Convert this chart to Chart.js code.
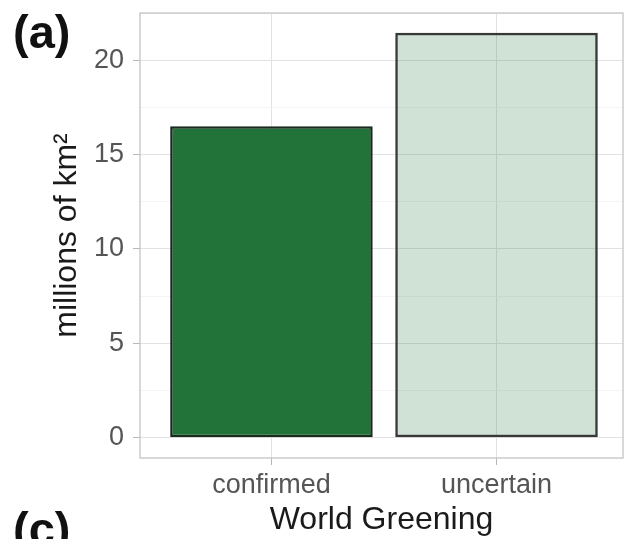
<!DOCTYPE html>
<html>
<head>
<meta charset="utf-8">
<script src="https://cdn.jsdelivr.net/npm/chart.js@4.4.1/dist/chart.umd.min.js"></script>
<style>
  html, body { margin: 0; padding: 0; background: #fff; }
  #wrap { position: relative; width: 629px; height: 539px; }
</style>
</head>
<body>
<div id="wrap"><canvas id="greenChart" width="629" height="539"></canvas></div>
<script>
// data
const categories = ['confirmed', 'uncertain'];
const areaValues = [16.5, 21.45];          // millions of km2
const yTickValues = [0, 2.5, 5, 7.5, 10, 12.5, 15, 17.5, 20, 22.5];
const panelTags = ['(a)', '(c)'];

const FONT = '"Liberation Sans", Arial, Helvetica, sans-serif';

// full panel border + the panel letters
const panelDecor = {
    id: 'panelDecor',
    afterDatasetsDraw(chart) {
        const { ctx, chartArea: a } = chart;
        ctx.save();
        ctx.strokeStyle = '#c4c4c4';
        ctx.lineWidth = 1.3;
        ctx.strokeRect(a.left, a.top, a.right - a.left, a.bottom - a.top);
        ctx.restore();
    },
    afterDraw(chart) {
        const { ctx } = chart;
        ctx.save();
        ctx.fillStyle = '#111';
        ctx.font = 'bold 47px ' + FONT;
        ctx.textBaseline = 'alphabetic';
        ctx.fillText(panelTags[0], 13, 48);
        ctx.fillText(panelTags[1], 13, 545);
        ctx.restore();
    }
};

const ctx = document.getElementById('greenChart');
new Chart(ctx, {
    type: 'bar',
    data: {
        datasets: [{
            data: categories.map((c, i) => ({ x: i + 1, y: areaValues[i] })),
            backgroundColor: ['#21733a', 'rgba(33,115,58,0.21)'],
            borderColor: ['#1b2a1f', '#383838'],
            borderWidth: 2.5,
            borderSkipped: false,
            categoryPercentage: 1,
            barPercentage: 0.9
        }]
    },
    options: {
        responsive: false,
        animation: false,
        layout: { padding: { left: 0, top: 13, right: 6, bottom: 0 } },
        plugins: { legend: { display: false }, tooltip: { enabled: false } },
        scales: {
            x: {
                type: 'linear',
                offset: false,
                min: 0.416,
                max: 2.562,
                afterBuildTicks: (s) => { s.ticks = categories.map((c, i) => ({ value: i + 1 })); },
                afterFit: (s) => { s.height = 81; s.paddingLeft = 0; s.paddingRight = 0; },
                grid: { offset: false, color: '#e2e2e2', lineWidth: 1, tickColor: '#b8b8b8', tickLength: 7 },
                border: { display: false },
                ticks: {
                    callback: (v) => categories[v - 1],
                    color: '#555',
                    font: { family: FONT, size: 27 },
                    padding: 4,
                    maxRotation: 0
                },
                title: {
                    display: true,
                    text: 'World Greening',
                    color: '#1a1a1a',
                    font: { family: FONT, size: 32 },
                    padding: { top: 0, bottom: 0 }
                }
            },
            y: {
                min: -1.07,
                max: 22.5,
                afterBuildTicks: (s) => { s.ticks = yTickValues.map(v => ({ value: v })); },
                afterFit: (s) => { s.width = 140; s.paddingTop = 0; s.paddingBottom = 0; },
                grid: {
                    color: (c) => (c.tick && c.tick.value % 5 === 0) ? '#e2e2e2' : '#f1f1f1',
                    lineWidth: (c) => (c.tick && c.tick.value % 5 === 0) ? 1 : 0.8,
                    tickColor: (c) => (c.tick && c.tick.value % 5 === 0) ? '#b8b8b8' : 'rgba(0,0,0,0)',
                    tickLength: 7
                },
                border: { display: false },
                ticks: {
                    callback: (v) => (v % 5 === 0 ? String(v) : ''),
                    color: '#555',
                    font: { family: FONT, size: 27 },
                    padding: 9
                },
                title: {
                    display: true,
                    text: 'millions of km²',
                    color: '#1a1a1a',
                    font: { family: FONT, size: 32 },
                    padding: { top: 48, bottom: 0 }
                }
            }
        }
    },
    plugins: [panelDecor]
});
</script>
</body>
</html>
